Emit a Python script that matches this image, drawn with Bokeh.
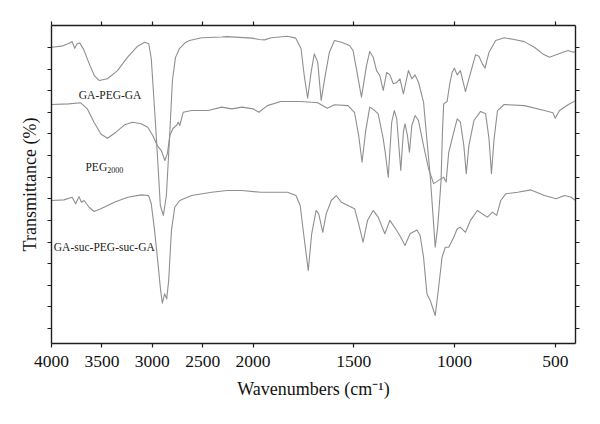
import numpy as np
from bokeh.plotting import figure
from bokeh.models import Range1d, LinearAxis, FixedTicker, ColumnDataSource, CustomJSTickFormatter
from bokeh.core.properties import value
from bokeh.embed import file_html
from bokeh.resources import INLINE

# ---------------- data (wavenumber cm^-1, transmittance in arbitrary offset units) -------------
wn_ga_peg_ga = [4000, 3900, 3830, 3795, 3770, 3745, 3720, 3680, 3625, 3575, 3525, 3445, 3345, 3245,
                3145, 3075, 3035, 3010, 2970, 2940, 2920, 2890, 2860, 2830, 2800, 2770, 2730, 2670,
                2630, 2510, 2310, 2260, 2010, 1970, 1943, 1910, 1830, 1788, 1762, 1746, 1729, 1712,
                1696, 1679, 1662, 1642, 1621, 1596, 1562, 1521, 1504, 1487, 1462, 1437, 1421, 1404,
                1387, 1371, 1354, 1337, 1321, 1304, 1287, 1271, 1254, 1229, 1212, 1196, 1179, 1154,
                1137, 1121, 1107, 1096, 1084, 1074, 1067, 1060, 1054, 1037, 1024, 1012, 1001, 987,
                971, 946, 929, 896, 879, 862, 849, 829, 796, 754, 704, 654, 604, 562, 529, 496,
                462, 437, 412, 400]
t_ga_peg_ga = [130.1, 130.6, 131.8, 132.7, 129.6, 131.7, 132.1, 129.0, 122.4, 117.0, 114.7, 115.5,
               119.3, 125.5, 130.6, 132.4, 131.7, 124.9, 96.2, 73.1, 56.9, 52.3, 61.5, 87.0, 114.7,
               125.3, 129.5, 132.3, 133.2, 134.5, 134.8, 135.0, 134.3, 133.7, 133.5, 134.5, 135.2,
               134.3, 129.5, 117.0, 106.5, 118.5, 127.0, 123.2, 105.5, 117.0, 127.8, 133.2, 132.4,
               130.9, 128.6, 120.1, 107.0, 121.6, 128.1, 125.5, 119.3, 117.0, 110.1, 118.5, 117.3,
               113.2, 113.8, 115.5, 108.5, 119.3, 115.5, 117.3, 113.9, 104.7, 87.0, 70.8, 52.3,
               37.6, 46.9, 59.2, 68.5, 91.6, 103.9, 105.0, 113.2, 118.5, 120.4, 117.3, 119.3,
               109.6, 115.5, 126.6, 125.9, 122.4, 120.4, 127.8, 133.2, 134.5, 133.7, 132.7, 130.1,
               127.0, 125.5, 126.6, 127.8, 128.6, 127.8, 128.1]

wn_peg = [4000, 3830, 3710, 3645, 3578, 3510, 3445, 3360, 3275, 3195, 3110, 3045, 2995, 2950, 2910,
          2875, 2850, 2825, 2795, 2760, 2743, 2727, 2710, 2693, 2610, 2445, 2310, 2210, 2110, 2000,
          1971, 1929, 1862, 1762, 1679, 1632, 1596, 1529, 1496, 1476, 1459, 1442, 1421, 1396, 1379,
          1354, 1342, 1329, 1312, 1299, 1287, 1274, 1267, 1254, 1246, 1234, 1224, 1212, 1196, 1179,
          1154, 1129, 1104, 1079, 1054, 1042, 1029, 1004, 987, 971, 954, 942, 929, 904, 871, 846,
          829, 817, 804, 787, 754, 654, 554, 512, 501, 479, 437, 400]
t_peg = [103.6, 103.9, 104.4, 101.6, 95.4, 90.0, 88.0, 90.8, 94.2, 95.4, 94.7, 93.1, 89.3, 84.6,
         82.3, 77.7, 80.9, 89.3, 92.5, 93.9, 95.4, 93.9, 97.0, 100.0, 100.8, 100.8, 102.4, 101.6,
         102.4, 101.6, 100.0, 103.1, 105.0, 105.0, 104.4, 101.9, 103.5, 103.1, 99.8, 89.3, 76.9,
         90.8, 102.4, 100.8, 99.3, 87.7, 80.0, 70.0, 95.4, 100.8, 97.1, 81.5, 73.1, 90.8, 94.7,
         89.3, 81.5, 93.9, 98.5, 96.2, 84.6, 73.9, 67.0, 68.5, 70.0, 67.7, 81.5, 90.8, 97.0, 95.4,
         84.6, 71.6, 84.6, 96.2, 100.4, 99.3, 87.7, 71.6, 87.7, 100.8, 103.6, 103.1, 100.8, 99.8,
         97.3, 100.8, 103.5, 105.4]

wn_ga_suc = [4000, 3877, 3795, 3760, 3727, 3703, 3677, 3627, 3577, 3510, 3377, 3243, 3110, 3037,
             3010, 2977, 2943, 2917, 2900, 2877, 2857, 2837, 2810, 2777, 2727, 2610, 2410, 2260,
             2110, 1962, 1829, 1787, 1766, 1749, 1726, 1709, 1687, 1674, 1654, 1637, 1612, 1587,
             1562, 1529, 1496, 1476, 1454, 1432, 1404, 1379, 1346, 1321, 1287, 1267, 1246, 1221,
             1187, 1171, 1154, 1137, 1121, 1096, 1079, 1062, 1046, 1029, 1004, 987, 971, 946, 921,
             887, 862, 837, 812, 791, 771, 746, 687, 621, 554, 496, 454, 421, 400]
t_ga_suc = [59.2, 59.5, 60.7, 57.7, 61.0, 58.4, 59.2, 56.1, 54.1, 55.4, 58.4, 60.7, 61.8, 61.5, 57.7,
            45.3, 29.9, 17.6, 11.7, 16.0, 13.7, 22.2, 45.3, 56.1, 59.2, 61.5, 63.0, 63.8, 63.8,
            63.0, 63.0, 61.5, 56.9, 43.8, 26.8, 43.8, 54.6, 53.0, 44.5, 53.0, 59.2, 61.5, 58.4,
            56.9, 55.4, 48.4, 39.9, 50.0, 54.6, 51.5, 43.8, 50.0, 45.3, 42.2, 38.4, 43.8, 45.6,
            43.0, 33.0, 16.0, 13.0, 6.0, 19.1, 33.0, 37.6, 37.6, 42.2, 46.1, 46.8, 44.5, 50.0,
            54.6, 53.0, 51.5, 53.8, 52.3, 59.2, 62.3, 63.0, 64.1, 61.5, 60.0, 61.5, 60.7, 59.2]

label_text = ["GA-PEG-GA", "PEG", "GA-suc-PEG-suc-GA"]
label_wn = [3729, 3663, 3977]
label_t = [107.8, 74.7, 37.9]
sub_text = ["2000"]

x_tick_wn = [4000, 3500, 3000, 2500, 2000, 1500, 1000, 500]
y_ticks = [0, 10, 20, 30, 40, 50, 60, 70, 80, 90, 100, 110, 120, 130]


# The x axis changes scale at 2000 cm^-1 (2x expansion below 2000)
def wn_to_u(w):
    w = np.asarray(w, dtype=float)
    return np.where(w >= 2000, (4000 - w) / 2.0, 1000 + (2000 - w))


FONT = "Liberation Serif"
LINE_COLOR = "#8f8f8f"
AX_COLOR = "#1e1e1e"

p = figure(width=598, height=420, output_backend="svg", toolbar_location=None,
           x_range=Range1d(float(wn_to_u(4000)), float(wn_to_u(400))),
           y_range=Range1d(-6.94, 140.15),
           min_border_left=51, min_border_right=23, min_border_top=25, min_border_bottom=77)
p.background_fill_color = "white"
p.border_fill_color = "white"
p.outline_line_color = None
p.xgrid.visible = False
p.ygrid.visible = False

for wn, t in [(wn_ga_peg_ga, t_ga_peg_ga), (wn_peg, t_peg), (wn_ga_suc, t_ga_suc)]:
    src = ColumnDataSource(dict(x=wn_to_u(wn), y=t))
    p.line("x", "y", source=src, line_color=LINE_COLOR, line_width=1.1, line_join="round")

# curve labels
p.text(x=wn_to_u(label_wn), y=label_t, text=label_text, text_font=value(FONT),
       text_font_size="11.5px", text_color="#222222", text_baseline="alphabetic", text_align="left")
p.text(x=wn_to_u(label_wn[1:2]), y=label_t[1:2], text=sub_text, text_font=value(FONT),
       text_font_size="8px", text_color="#222222", text_baseline="alphabetic", text_align="left",
       x_offset=21.7, y_offset=3)

bottom = p.below[0]
left = p.left[0]
top = LinearAxis()
right = LinearAxis()
p.add_layout(top, "above")
p.add_layout(right, "right")

xt = FixedTicker(ticks=[float(v) for v in wn_to_u(x_tick_wn)])
overrides = {float(u): str(w) for u, w in zip(wn_to_u(x_tick_wn), x_tick_wn)}
yt = FixedTicker(ticks=y_ticks)

for ax in [bottom, top]:
    ax.ticker = xt
for ax in [left, right]:
    ax.ticker = yt

for ax in [bottom, top, left, right]:
    ax.axis_line_color = AX_COLOR
    ax.axis_line_width = 1.4
    ax.major_tick_line_color = AX_COLOR
    ax.major_tick_line_width = 1.2
    ax.major_tick_out = 4
    ax.major_tick_in = 0
    ax.minor_tick_out = 0
    ax.minor_tick_in = 0
    ax.major_label_text_font = FONT
    ax.axis_label_text_font = FONT
    ax.axis_label_text_font_style = "normal"
    ax.axis_label_text_color = "#111111"
    ax.major_label_text_color = "#111111"

bottom.major_label_overrides = overrides
bottom.major_label_text_font_size = "17.5px"
bottom.major_label_standoff = 8
bottom.axis_label = "Wavenumbers (cm\u207b\u00b9)"
bottom.axis_label_text_font_size = "18px"
bottom.axis_label_standoff = 9

blank = CustomJSTickFormatter(code="return '';")
for ax in [top, right, left]:
    ax.formatter = blank
    ax.major_label_standoff = 0

left.axis_label = "Transmittance (%)"
left.axis_label_text_font_size = "18px"
left.axis_label_standoff = 8

open("out.html", "w").write(file_html(p, INLINE))
